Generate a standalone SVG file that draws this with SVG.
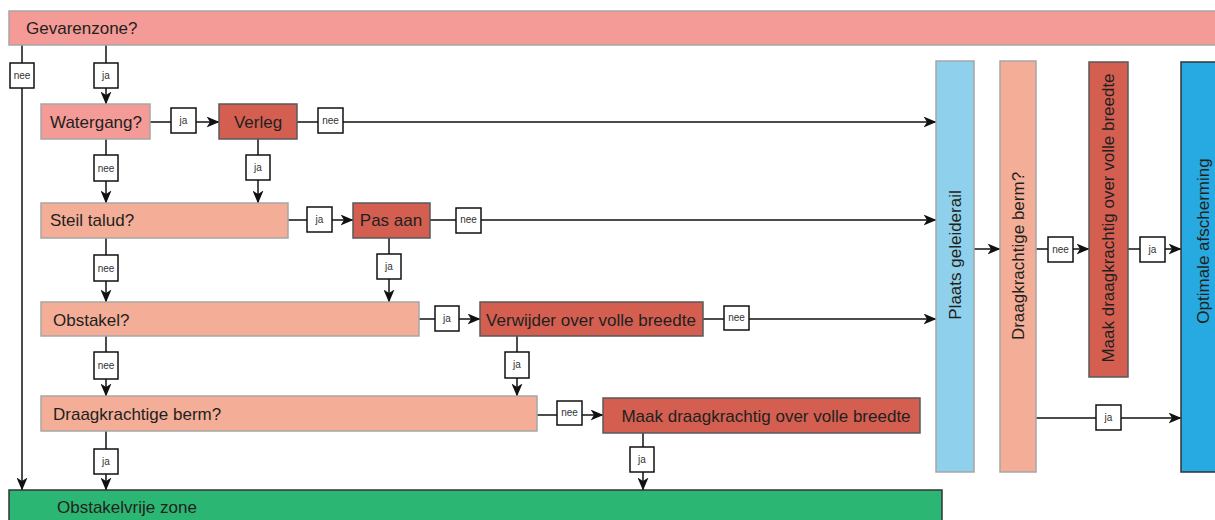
<svg xmlns="http://www.w3.org/2000/svg" width="1215" height="520" viewBox="0 0 1215 520">
<defs>
<marker id="ah" viewBox="0 0 13 11" refX="12.5" refY="5.5" markerWidth="13" markerHeight="11" markerUnits="userSpaceOnUse" orient="auto">
<path d="M0,0 L13,5.5 L0,11 L3.5,5.5 z" fill="#111"/>
</marker>
<style>
text{font-family:"Liberation Sans","Open Sans",sans-serif;fill:#231f20}
.t{font-size:17px}
.lb rect{fill:#fff;stroke:#111;stroke-width:1.5}
.lb text{font-size:10px;fill:#333;text-anchor:middle}
.pink{fill:#f49b97;stroke:#a6a6a6;stroke-width:1.5}
.salm{fill:#f4ae98;stroke:#a6a6a6;stroke-width:1.5}
.red{fill:#d45f50;stroke:#58595b;stroke-width:1.5}
.green{fill:#2bb673;stroke:#333;stroke-width:1.5}
.lblue{fill:#8fd0ec;stroke:#a6a6a6;stroke-width:1.5}
.blue{fill:#27a9e1;stroke:#333;stroke-width:1.5}
.c{fill:none;stroke:#111;stroke-width:1.5}
.a{marker-end:url(#ah)}
</style>
</defs>

<g id="connectors">
<path class="c a" d="M22,45 V490"/>
<path class="c a" d="M106,45 V104"/>
<path class="c a" d="M150,122 H219"/>
<path class="c a" d="M297,122 H936"/>
<path class="c a" d="M106,139 V203"/>
<path class="c a" d="M258,139 V203"/>
<path class="c a" d="M288,220 H353"/>
<path class="c a" d="M430,220 H936"/>
<path class="c a" d="M106,238 V302"/>
<path class="c a" d="M389,238 V302"/>
<path class="c a" d="M419,319 H480"/>
<path class="c a" d="M703,319 H936"/>
<path class="c a" d="M106,336 V396"/>
<path class="c a" d="M517,336 V396"/>
<path class="c a" d="M537,415 H603"/>
<path class="c a" d="M106,431 V490"/>
<path class="c a" d="M643,433 V490"/>
<path class="c a" d="M974,249 H1000"/>
<path class="c a" d="M1036,249 H1089"/>
<path class="c a" d="M1128,249 H1181"/>
<path class="c a" d="M1036,418 H1181"/>
</g>

<g id="labels">
<g class="lb"><rect x="10" y="63" width="24" height="25"/><text x="22" y="79">nee</text></g>
<g class="lb"><rect x="94" y="63" width="24" height="25"/><text x="106" y="79">ja</text></g>
<g class="lb"><rect x="171" y="108" width="25" height="25"/><text x="183.5" y="124">ja</text></g>
<g class="lb"><rect x="318" y="108" width="25" height="25"/><text x="330.5" y="124">nee</text></g>
<g class="lb"><rect x="94" y="155" width="24" height="26"/><text x="106" y="172">nee</text></g>
<g class="lb"><rect x="246" y="155" width="24" height="25"/><text x="258" y="171">ja</text></g>
<g class="lb"><rect x="307" y="207" width="25" height="25"/><text x="319.5" y="223">ja</text></g>
<g class="lb"><rect x="456" y="208" width="25" height="25"/><text x="468.5" y="223">nee</text></g>
<g class="lb"><rect x="94" y="255" width="24" height="26"/><text x="106" y="272">nee</text></g>
<g class="lb"><rect x="377" y="254" width="24" height="25"/><text x="389" y="270">ja</text></g>
<g class="lb"><rect x="435" y="306" width="24" height="25"/><text x="447" y="322">ja</text></g>
<g class="lb"><rect x="724" y="306" width="25" height="24"/><text x="736.5" y="321">nee</text></g>
<g class="lb"><rect x="94" y="352" width="24" height="27"/><text x="106" y="369">nee</text></g>
<g class="lb"><rect x="505" y="352" width="24" height="26"/><text x="517" y="368">ja</text></g>
<g class="lb"><rect x="557" y="401" width="25" height="24"/><text x="569.5" y="416">nee</text></g>
<g class="lb"><rect x="94" y="449" width="24" height="25"/><text x="106" y="465">ja</text></g>
<g class="lb"><rect x="630" y="447" width="24" height="25"/><text x="642" y="463">ja</text></g>
<g class="lb"><rect x="1048" y="237" width="25" height="25"/><text x="1060.5" y="253">nee</text></g>
<g class="lb"><rect x="1140" y="237" width="25" height="25"/><text x="1152.5" y="253">ja</text></g>
<g class="lb"><rect x="1096" y="405" width="25" height="25"/><text x="1108.5" y="421">ja</text></g>
</g>

<g id="gevarenzone"><rect class="pink" x="9" y="11" width="1210" height="34"/><text class="t" x="26" y="34">Gevarenzone?</text></g>
<g id="watergang"><rect class="pink" x="41" y="104" width="109" height="35"/><text class="t" x="50" y="128">Watergang?</text></g>
<g id="verleg"><rect class="red" x="219" y="104" width="78" height="35"/><text class="t" x="258" y="128" text-anchor="middle">Verleg</text></g>
<g id="steil"><rect class="salm" x="41" y="203" width="247" height="35"/><text class="t" x="50" y="226">Steil talud?</text></g>
<g id="pasaan"><rect class="red" x="353" y="203" width="77" height="35"/><text class="t" x="391" y="226" text-anchor="middle">Pas aan</text></g>
<g id="obstakel"><rect class="salm" x="41" y="302" width="378" height="34"/><text class="t" x="53" y="326">Obstakel?</text></g>
<g id="verwijder"><rect class="red" x="480" y="302" width="223" height="34"/><text class="t" x="591" y="326" text-anchor="middle">Verwijder over volle breedte</text></g>
<g id="draag1"><rect class="salm" x="41" y="396" width="496" height="35"/><text class="t" x="53" y="420">Draagkrachtige berm?</text></g>
<g id="maak1"><rect class="red" x="603" y="398" width="317" height="35"/><text class="t" x="766" y="422" text-anchor="middle">Maak draagkrachtig over volle breedte</text></g>
<g id="obstakelvrij"><rect class="green" x="9" y="490" width="933" height="40"/><text class="t" x="57" y="513">Obstakelvrije zone</text></g>
<g id="plaats"><rect class="lblue" x="936" y="61" width="38" height="411"/><text class="t" transform="translate(961,255) rotate(-90)" text-anchor="middle">Plaats geleiderail</text></g>
<g id="draag2"><rect class="salm" x="1000" y="61" width="36" height="411"/><text class="t" transform="translate(1024,256) rotate(-90)" text-anchor="middle">Draagkrachtige berm?</text></g>
<g id="maak2"><rect class="red" x="1089" y="62" width="39" height="315"/><text class="t" transform="translate(1114,218) rotate(-90)" text-anchor="middle">Maak draagkrachtig over volle breedte</text></g>
<g id="optimale"><rect class="blue" x="1181" y="62" width="40" height="410"/><text class="t" transform="translate(1209,241) rotate(-90)" text-anchor="middle">Optimale afscherming</text></g>
</svg>
